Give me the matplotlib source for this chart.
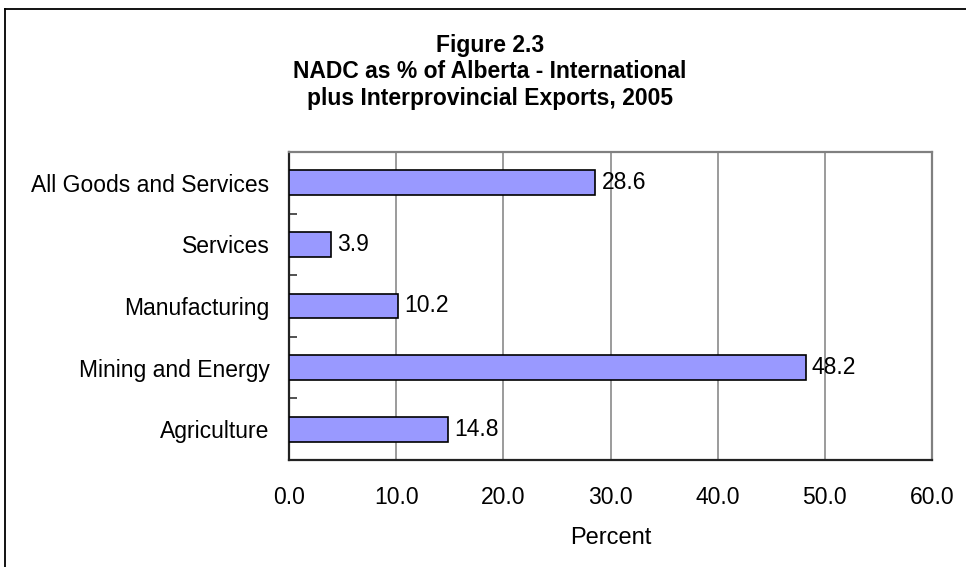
import matplotlib
matplotlib.use("Agg")
import matplotlib.pyplot as plt
from matplotlib.lines import Line2D
import numpy as np

plt.rcParams['font.family'] = ['Liberation Sans', 'DejaVu Sans']

categories = ["All Goods and Services", "Services", "Manufacturing",
              "Mining and Energy", "Agriculture"]
values = [28.6, 3.9, 10.2, 48.2, 14.8]
xticks = [0, 10, 20, 30, 40, 50, 60]
xtick_labels = ["0.0", "10.0", "20.0", "30.0", "40.0", "50.0", "60.0"]
title_lines = ["Figure 2.3", "NADC as % of Alberta - International",
               "plus Interprovincial Exports, 2005"]
x_label = "Percent"

W, H = 966, 567
fig = plt.figure(figsize=(W / 100, H / 100), dpi=100)
fig.patch.set_facecolor("white")

# figure border (left and top visible, rest cut off)
fig.add_artist(Line2D([4.5 / W, 4.5 / W], [0, 1 - 8.5 / H], transform=fig.transFigure,
                      color="black", lw=1.3))
fig.add_artist(Line2D([4.5 / W, 1], [1 - 8.5 / H, 1 - 8.5 / H], transform=fig.transFigure,
                      color="black", lw=1.3))

ax = fig.add_axes([289 / W, 1 - 460 / H, 643 / W, 308 / H])
y = np.arange(len(categories))
ax.barh(y, values, height=0.4, color="#9999FF", edgecolor="black", linewidth=1.2, zorder=3)
ax.set_ylim(len(categories) - 0.5, -0.5)
ax.set_xlim(0, 60)

for yi, v in zip(y, values):
    ax.annotate(f"{v:.1f}", xy=(v, yi), xytext=(4.5, 0), textcoords="offset points",
                ha="left", va="center", fontsize=16.5, color="black", zorder=4)

ax.set_xticks(xticks)
ax.set_xticklabels(xtick_labels)
ax.set_yticks(y)
ax.set_yticklabels(categories)
ax.set_yticks(np.arange(-0.5, len(categories), 1.0), minor=True)
ax.tick_params(axis="y", which="major", length=0, pad=14, labelsize=16.5)
ax.tick_params(axis="y", which="minor", direction="in", length=6, width=1.2, color="#333333")
ax.tick_params(axis="x", which="major", length=0, pad=19, labelsize=16.5)

ax.grid(axis="x", color="#808080", linewidth=1.1, zorder=0)
ax.set_axisbelow(True)
for s in ["top", "right"]:
    ax.spines[s].set_color("#808080")
    ax.spines[s].set_linewidth(1.6)
for s in ["left", "bottom"]:
    ax.spines[s].set_color("#222222")
    ax.spines[s].set_linewidth(1.6)

ax.set_xlabel(x_label, fontsize=17, labelpad=13)

fig.text(490 / W, 1 - 72 / H, "\n".join(title_lines), ha="center", va="center",
         fontsize=16.5, fontweight="bold", linespacing=1.2)

fig.savefig("out.png", dpi=100)
